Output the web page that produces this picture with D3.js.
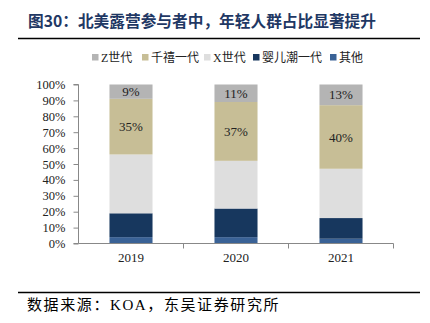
<!DOCTYPE html>
<html><head><meta charset="utf-8">
<script src="https://cdn.jsdelivr.net/npm/d3@7"></script>
<style>body{margin:0;background:#fff}svg{display:block}</style>
</head><body>
<script>
const years = ["2019", "2020", "2021"];
const seriesNames = ["其他", "婴儿潮一代", "X世代", "千禧一代", "Z世代"];
const other = [4, 4, 3];
const boomer = [15, 18, 13];
const genX = [37, 30, 31];
const millennial = [35, 37, 40];
const genZ = [9, 11, 13];
const yTicks = [0, 10, 20, 30, 40, 50, 60, 70, 80, 90, 100];
const legendOrder = ["Z世代", "千禧一代", "X世代", "婴儿潮一代", "其他"];
const labeled = ["千禧一代", "Z世代"];

const colors = {"其他": "#3a6296", "婴儿潮一代": "#17375e", "X世代": "#dedede", "千禧一代": "#c7be96", "Z世代": "#b4b4b4"};
const seriesValues = {"其他": other, "婴儿潮一代": boomer, "X世代": genX, "千禧一代": millennial, "Z世代": genZ};

const W = 430, H = 323;
const svg = d3.select("body").append("svg").attr("width", W).attr("height", H);
const serif = "'Times New Roman','Liberation Serif','Noto Sans CJK SC',serif";

// title
svg.append("text").attr("x", 28).attr("y", 27)
  .attr("font-family", "'Noto Sans CJK SC',sans-serif").attr("font-weight", "bold")
  .attr("font-size", 15.7).attr("fill", "#1f3864")
  .text("图30：北美露营参与者中，年轻人群占比显著提升");
svg.append("line").attr("x1", 18).attr("x2", 420).attr("y1", 38.5).attr("y2", 38.5)
  .attr("stroke", "#000").attr("stroke-width", 1.5);

// footer
svg.append("line").attr("x1", 18).attr("x2", 420).attr("y1", 292.5).attr("y2", 292.5)
  .attr("stroke", "#000").attr("stroke-width", 1.5);
svg.append("text").attr("x", 27).attr("y", 310)
  .attr("font-family", serif).attr("font-size", 15).attr("letter-spacing", 1.6).attr("fill", "#000")
  .text("数据来源：KOA，东吴证券研究所");

// scales
const x = d3.scaleBand().domain(years).range([78.5, 393.5]).paddingInner(0.59).paddingOuter(0.295);
const y = d3.scaleLinear().domain([0, 100]).range([243.5, 84.5]);

const rows = years.map((yr, i) => {
  const r = {year: yr};
  seriesNames.forEach(s => r[s] = seriesValues[s][i]);
  return r;
});
const stacked = d3.stack().keys(seriesNames)(rows);

const g = svg.append("g");
stacked.forEach(layer => {
  g.selectAll(null).data(layer).enter().append("rect")
    .attr("x", d => x(d.data.year))
    .attr("width", x.bandwidth())
    .attr("y", d => y(d[1]))
    .attr("height", d => y(d[0]) - y(d[1]))
    .attr("fill", colors[layer.key]);
  if (labeled.includes(layer.key)) {
    g.selectAll(null).data(layer).enter().append("text")
      .attr("x", d => x(d.data.year) + x.bandwidth() / 2)
      .attr("y", d => (y(d[0]) + y(d[1])) / 2)
      .attr("dy", "0.35em").attr("text-anchor", "middle")
      .attr("font-family", serif).attr("font-size", 13).attr("fill", "#222")
      .text(d => (d[1] - d[0]) + "%");
  }
});

// y axis
const yAxis = svg.append("g").attr("transform", "translate(78.5,0)")
  .call(d3.axisLeft(y).tickValues(yTicks).tickFormat(d => d + "%").tickSize(5).tickPadding(8));
yAxis.select(".domain").attr("stroke", "#888").attr("d", "M-5,84.5H0V243.5H-5");
yAxis.selectAll(".tick line").attr("stroke", "#888");
yAxis.selectAll("text").attr("font-family", serif).attr("font-size", 12.5).attr("fill", "#222");

// x axis
const xAxis = svg.append("g").attr("transform", "translate(0,243.5)")
  .call(d3.axisBottom(x).tickSize(0).tickPadding(9));
xAxis.select(".domain").attr("stroke", "#888").attr("d", "M78.5,0H393.5");
xAxis.selectAll("text").attr("font-family", serif).attr("font-size", 13).attr("fill", "#222");
const step = x.step();
xAxis.selectAll(null).data(years).enter().append("line")
  .attr("x1", (d, i) => 78.5 + step * (i + 1)).attr("x2", (d, i) => 78.5 + step * (i + 1))
  .attr("y1", 0).attr("y2", 5).attr("stroke", "#888");

// legend
const legendX = [92, 142, 204, 253, 330];
const lg = svg.append("g");
legendOrder.forEach((name, i) => {
  lg.append("rect").attr("x", legendX[i]).attr("y", 54).attr("width", 6.5).attr("height", 6.5)
    .attr("fill", colors[name]);
  lg.append("text").attr("x", legendX[i] + 9).attr("y", 57.5).attr("dy", "0.35em")
    .attr("font-family", serif).attr("font-size", 12).attr("fill", "#222").text(name);
});
</script>
</body></html>
